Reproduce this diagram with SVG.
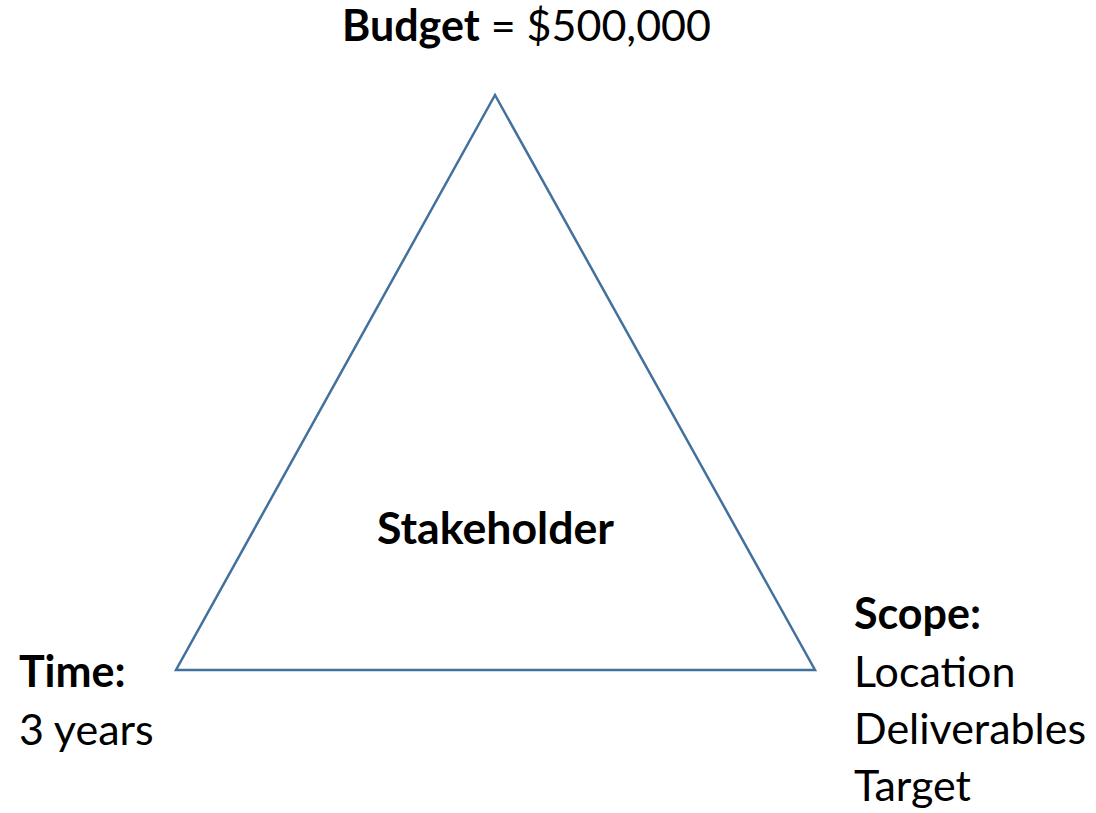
<svg xmlns="http://www.w3.org/2000/svg" width="1096" height="813" viewBox="0 0 1096 813">
  <style>
    .lbl { font-family: Lato, "Open Sans", "Liberation Sans", sans-serif; font-size: 43px; fill: #000; }
    .b { font-weight: bold; }
    .tri { fill: none; stroke: #41719C; stroke-width: 2.5; stroke-linejoin: miter; }
  </style>
  <rect width="1096" height="813" fill="#fff"/>

  <!-- central triangle with its label -->
  <g id="stakeholder">
    <polygon class="tri" points="495,95 176,670 815,670"/>
    <text class="lbl b" x="377" y="544" textLength="237" lengthAdjust="spacingAndGlyphs">Stakeholder</text>
  </g>

  <!-- top vertex: budget -->
  <g id="budget">
    <text class="lbl" x="342" y="41"><tspan class="b">Budget</tspan> = $500,000</text>
  </g>

  <!-- bottom-left vertex: time -->
  <g id="time">
    <text class="lbl b" x="19" y="687">Time:</text>
    <text class="lbl" x="19" y="745">3 years</text>
  </g>

  <!-- bottom-right vertex: scope -->
  <g id="scope">
    <text class="lbl b" x="854" y="629">Scope:</text>
    <text class="lbl" x="854" y="687">Location</text>
    <text class="lbl" x="854" y="744">Deliverables</text>
    <text class="lbl" x="854" y="801">Target</text>
  </g>

  <g id="connectors"></g>
</svg>
